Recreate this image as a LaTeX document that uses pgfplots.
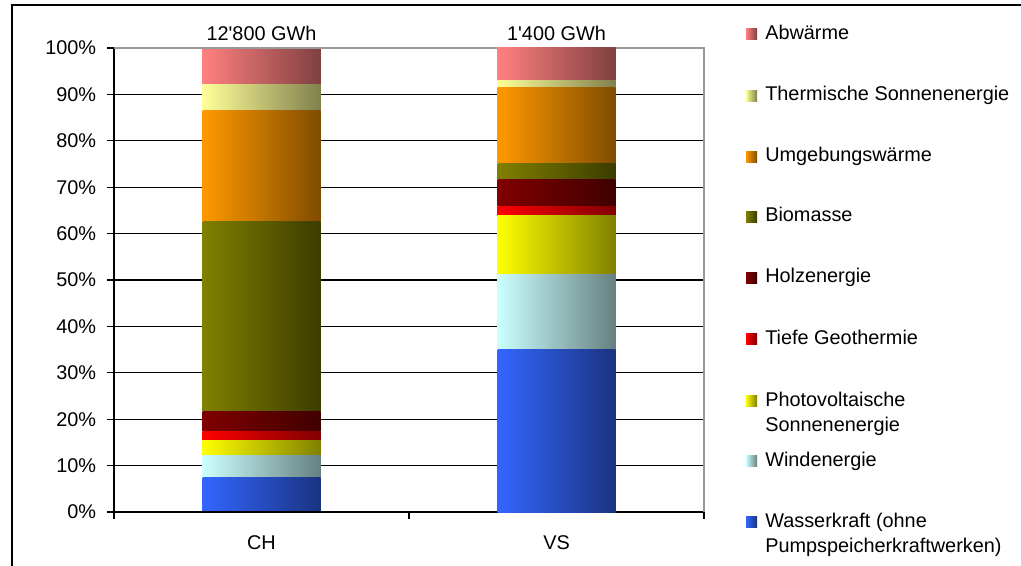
\documentclass[border=0pt]{standalone}
\usepackage{pgfplots}
\pgfplotsset{compat=1.18}
\usepackage{fontspec}
\setmainfont{Liberation Sans}[Ligatures=TeXOff]
\definecolor{waL}{RGB}{51,102,255}\definecolor{waR}{RGB}{26,51,128}
\definecolor{wiL}{RGB}{204,255,255}\definecolor{wiR}{RGB}{102,128,128}
\definecolor{pvL}{RGB}{255,255,0}\definecolor{pvR}{RGB}{128,128,0}
\definecolor{geL}{RGB}{255,0,0}\definecolor{geR}{RGB}{128,0,0}
\definecolor{hoL}{RGB}{128,0,0}\definecolor{hoR}{RGB}{64,0,0}
\definecolor{biL}{RGB}{128,128,0}\definecolor{biR}{RGB}{60,60,0}
\definecolor{umL}{RGB}{255,153,0}\definecolor{umR}{RGB}{128,76,0}
\definecolor{thL}{RGB}{255,255,153}\definecolor{thR}{RGB}{128,128,77}
\definecolor{abL}{RGB}{255,128,128}\definecolor{abR}{RGB}{128,64,64}
\pgfplotsset{
  base/.style={
    at={(85.5pt,39.75pt)}, anchor=south west,
    scale only axis, width=442.5pt, height=348pt,
    xmin=-0.5, xmax=1.5, ymin=0, ymax=100,
    ybar stacked, bar width=88.5pt, clip=false,
    every axis plot/.append style={draw=none},
  }
}
\begin{document}
\fontsize{14.9pt}{17.8pt}\selectfont
\begin{tikzpicture}
\path[use as bounding box] (0,0) rectangle (765.75pt,423.75pt);
% axis 1: frame, grid, ticks, CH bar
\begin{axis}[base,
  xtick={-0.5,0.5,1.5}, xticklabels={},
  ytick={0,10,...,100},
  yticklabel={\pgfmathprintnumber{\tick}\%},
  /pgf/number format/assume math mode=true,
  tick align=outside, xtick pos=bottom, ytick pos=left,
  major tick length=5.25pt,
  tick style={black, line width=0.8pt},
  ymajorgrids, grid style={black, line width=0.9pt},
  axis line style={draw=none},
  yticklabel style={xshift=-3pt},
]
\addplot[left color=waL, right color=waR] coordinates {(0,7.4)};
\addplot[left color=wiL, right color=wiR] coordinates {(0,4.7)};
\addplot[left color=pvL, right color=pvR] coordinates {(0,3.4)};
\addplot[left color=geL, right color=geR] coordinates {(0,1.8)};
\addplot[left color=hoL, right color=hoR] coordinates {(0,4.3)};
\addplot[left color=biL, right color=biR] coordinates {(0,40.9)};
\addplot[left color=umL, right color=umR] coordinates {(0,24.1)};
\addplot[left color=thL, right color=thR] coordinates {(0,5.6)};
\addplot[left color=abL, right color=abR] coordinates {(0,7.8)};
\node at (axis cs:0,100) [yshift=11.25pt] {12'800 GWh};
\node at (axis cs:0,0) [yshift=-23.25pt] {CH};
\end{axis}
% axis 2: VS bar
\begin{axis}[base, hide axis]
\addplot[left color=waL, right color=waR] coordinates {(1,35.1)};
\addplot[left color=wiL, right color=wiR] coordinates {(1,16.0)};
\addplot[left color=pvL, right color=pvR] coordinates {(1,12.7)};
\addplot[left color=geL, right color=geR] coordinates {(1,2.1)};
\addplot[left color=hoL, right color=hoR] coordinates {(1,5.7)};
\addplot[left color=biL, right color=biR] coordinates {(1,3.4)};
\addplot[left color=umL, right color=umR] coordinates {(1,16.4)};
\addplot[left color=thL, right color=thR] coordinates {(1,1.5)};
\addplot[left color=abL, right color=abR] coordinates {(1,7.1)};
\draw[gray!80, line width=0.9pt] (rel axis cs:0,1) -- (rel axis cs:1,1) -- (rel axis cs:1,0);
\draw[black, line width=0.9pt] (rel axis cs:1,0) -- (rel axis cs:0,0) -- (rel axis cs:0,1);
\node at (axis cs:1,100) [yshift=11.25pt] {1'400 GWh};
\node at (axis cs:1,0) [yshift=-23.25pt] {VS};
\end{axis}
\begin{scope}[shift={(0pt,423.75pt)}, x=0.75pt, y=-0.75pt]
\draw[line width=1.5pt] (12,580) -- (12,5) -- (1040,5);
\foreach \b/\cl/\cr/\t in {39.5/abL/abR/Abwärme, 101/thL/thR/Thermische Sonnenenergie, 162/umL/umR/Umgebungswärme, 222/biL/biR/Biomasse, 283/hoL/hoR/Holzenergie, 344/geL/geR/Tiefe Geothermie, 406/pvL/pvR/Photovoltaische, 466/wiL/wiR/Windenergie, 527/waL/waR/Wasserkraft (ohne}{
  \shade[left color=\cl, right color=\cr] (746,\b-10.5) rectangle (757,\b+0.5);
  \node[anchor=base west, inner sep=0pt] at (765,\b) {\t};
}
\node[anchor=base west, inner sep=0pt] at (765,431) {Sonnenenergie};
\node[anchor=base west, inner sep=0pt] at (765,552) {Pumpspeicherkraftwerken)};
\end{scope}
\end{tikzpicture}
\end{document}
